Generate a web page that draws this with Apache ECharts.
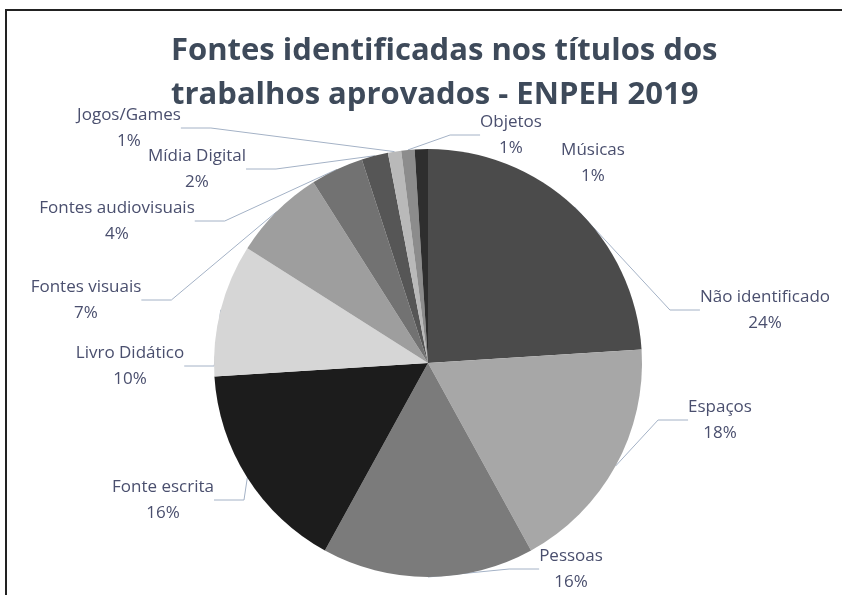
<!DOCTYPE html>
<html>
<head>
<meta charset="utf-8">
<script src="https://cdn.jsdelivr.net/npm/echarts@6/dist/echarts.min.js"></script>
<style>
  html, body { margin: 0; padding: 0; background: #fff; }
  #chart { width: 842px; height: 595px; }
  .frame {
    position: absolute; left: 5px; top: 9px; width: 850px; height: 600px;
    border-top: 2px solid #222; border-left: 2px solid #222;
    pointer-events: none;
  }
</style>
</head>
<body>
<div id="chart"></div>
<div class="frame"></div>
<script>
// categories, clockwise from 12 o'clock
const categories = ['Não identificado', 'Espaços', 'Pessoas', 'Fonte escrita', 'Livro Didático',
  'Fontes visuais', 'Fontes audiovisuais', 'Mídia Digital', 'Jogos/Games', 'Objetos', 'Músicas'];
const percents = [24, 18, 16, 16, 10, 7, 4, 2, 1, 1, 1];
const sliceColors = ['#4b4b4b', '#a7a7a7', '#7b7b7b', '#1c1c1c', '#d6d6d6',
  '#9e9e9e', '#727272', '#565656', '#b9b9b9', '#8c8c8c', '#2e2e2e'];

// label block centres (pixels)
const labelPos = [
  [765, 310], [720, 420], [571, 569], [163, 500], [130, 366],
  [86, 300], [117, 221], [197, 169], [129, 128], [511, 135], [593, 163]
];

const chart = echarts.init(document.getElementById('chart'));

const data = categories.map((name, i) => ({
  name,
  value: percents[i],
  itemStyle: { color: sliceColors[i] },
  labelLine: { show: name !== 'Músicas' }
}));

chart.setOption({
  animation: false,
  title: {
    text: 'Fontes identificadas nos títulos dos\ntrabalhos aprovados - ENPEH 2019',
    left: 166,
    top: 24,
    textAlign: 'left',
    textStyle: {
      fontFamily: 'Open Sans',
      fontWeight: 'bold',
      fontSize: 31,
      lineHeight: 44,
      color: '#3e4a5a',
      align: 'center',
      width: 550
    }
  },
  series: [{
    type: 'pie',
    center: [428, 363],
    radius: 214,
    startAngle: 90,
    clockwise: true,
    data,
    itemStyle: { borderWidth: 0 },
    label: {
      show: true,
      formatter: p => p.name + '\n' + p.value + '%',
      fontFamily: 'Open Sans',
      fontSize: 17,
      lineHeight: 26,
      color: '#4a4f6e',
      align: 'center'
    },
    labelLine: {
      show: true,
      lineStyle: { color: '#a4b2c6', width: 1 }
    },
    labelLayout: params => ({
      x: labelPos[params.dataIndex][0],
      y: labelPos[params.dataIndex][1],
      align: 'center',
      verticalAlign: 'middle'
    })
  }]
});
</script>
</body>
</html>
